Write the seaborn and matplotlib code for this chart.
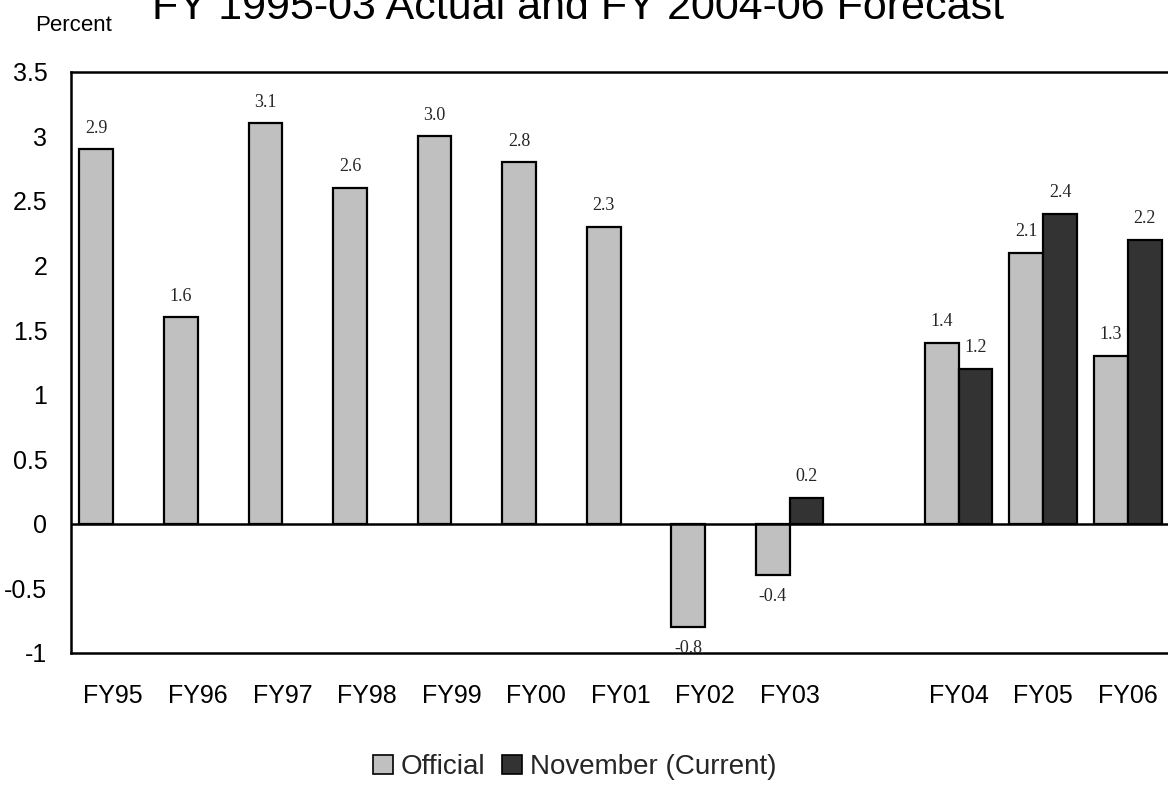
import matplotlib
matplotlib.use("Agg")
import matplotlib.pyplot as plt
import seaborn as sns
import pandas as pd
from matplotlib.patches import Patch

# ---- data ----
categories = ["FY95", "FY96", "FY97", "FY98", "FY99", "FY00", "FY01", "FY02", "FY03", " ", "FY04", "FY05", "FY06"]
official_cats = ["FY95", "FY96", "FY97", "FY98", "FY99", "FY00", "FY01", "FY02", "FY03", "FY04", "FY05", "FY06"]
official_vals = [2.9, 1.6, 3.1, 2.6, 3.0, 2.8, 2.3, -0.8, -0.4, 1.4, 2.1, 1.3]
november_cats = ["FY03", "FY04", "FY05", "FY06"]
november_vals = [0.2, 1.2, 2.4, 2.2]
series_names = ["Official", "November (Current)"]
yticks = [3.5, 3, 2.5, 2, 1.5, 1, 0.5, 0, -0.5, -1]
title = "FY 1995-03 Actual and FY 2004-06 Forecast"

df = pd.concat([
    pd.DataFrame({"cat": official_cats, "val": official_vals, "series": series_names[0]}),
    pd.DataFrame({"cat": november_cats, "val": november_vals, "series": series_names[1]}),
], ignore_index=True)

sns.set_theme(style="white")
plt.rcParams["font.family"] = ["Liberation Sans", "DejaVu Sans"]

W, H = 1168, 796
fig = plt.figure(figsize=(W / 100, H / 100), dpi=100)
ax = fig.add_axes([71 / W, 1 - 653 / H, (1170 - 71) / W, (653 - 71.7) / H])

colors = {"Official": "#C0C0C0", "November (Current)": "#333333"}
sns.barplot(data=df, x="cat", y="val", hue="series", order=categories,
            hue_order=series_names, palette=colors, width=0.8,
            edgecolor="black", linewidth=1.6, saturation=1, ax=ax, legend=False)

for cont in ax.containers:
    ax.bar_label(cont, fmt="%.1f", padding=9, fontsize=13,
                 family=["Liberation Serif", "DejaVu Serif"])

ax.set_ylim(-1, 3.5)
ax.set_xlim(-0.5, len(categories) - 0.5)
ax.set_yticks(yticks)
ax.set_yticklabels([f"{t:g}" for t in yticks])
ax.axhline(0, color="black", lw=1.8, zorder=5)
ax.tick_params(axis="both", length=0, labelsize=18, colors="black")
ax.tick_params(axis="y", pad=17)
ax.tick_params(axis="x", pad=22)
ax.set_xlabel("")
ax.set_ylabel("")
for s in ["left", "top", "bottom", "right"]:
    ax.spines[s].set_color("black")
    ax.spines[s].set_linewidth(1.8)
ax.spines["right"].set_visible(False)
ax.grid(False)

fig.text(578 / W, 1 - 19 / H, title, ha="center", va="baseline", fontsize=31, color="black")
fig.text(35 / W, 1 - 31 / H, "Percent", ha="left", va="baseline", fontsize=16, color="black")

handles = [Patch(facecolor=colors[n], edgecolor="black", linewidth=1.2, label=n) for n in series_names]
fig.legend(handles=handles, loc="center", bbox_to_anchor=(575 / W, 1 - 767 / H), ncol=2,
           frameon=False, fontsize=20, handlelength=0.7, handleheight=0.7,
           handletextpad=0.3, columnspacing=0.6, borderpad=0)

fig.savefig("out.png", dpi=100)
